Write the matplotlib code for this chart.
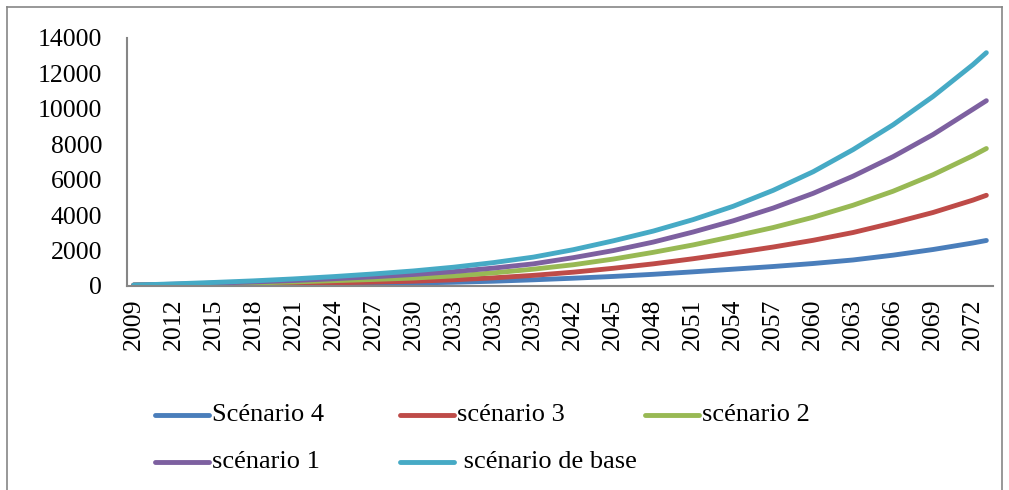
import matplotlib
matplotlib.use('Agg')
import matplotlib.pyplot as plt
from matplotlib.lines import Line2D

plt.rcParams['font.family'] = ['Liberation Serif', 'DejaVu Serif']

# data (every 3 years + last year)
years = [2009, 2012, 2015, 2018, 2021, 2024, 2027, 2030, 2033, 2036, 2039,
         2042, 2045, 2048, 2051, 2054, 2057, 2060, 2063, 2066, 2069, 2072, 2073]
scen4 = [50, 55, 65, 80, 95, 115, 140, 170, 210, 270, 350,
         440, 540, 660, 800, 950, 1100, 1270, 1470, 1740, 2060, 2430, 2570]
scen3 = [50, 65, 85, 110, 140, 180, 220, 270, 350, 460, 600,
         780, 1000, 1250, 1540, 1860, 2200, 2580, 3020, 3560, 4150, 4850, 5120]
scen2 = [50, 80, 120, 170, 230, 300, 370, 450, 570, 740, 950,
         1200, 1520, 1900, 2320, 2800, 3300, 3880, 4560, 5350, 6280, 7360, 7760]
scen1 = [50, 100, 160, 230, 310, 410, 520, 650, 810, 1010, 1250,
         1600, 2000, 2480, 3050, 3680, 4400, 5230, 6200, 7300, 8550, 9980, 10460]
base = [50, 120, 200, 290, 400, 530, 680, 850, 1060, 1320, 1630,
        2050, 2550, 3100, 3750, 4500, 5400, 6450, 7700, 9100, 10700, 12500, 13170]

labels = ['Scénario 4', 'scénario 3', 'scénario 2', 'scénario 1', ' scénario de base']
series = [scen4, scen3, scen2, scen1, base]
colors = ['#4A7EBB', '#BE4B48', '#98B954', '#7D60A0', '#46AAC5']
tick_years = list(range(2009, 2073, 3))
y_ticks = list(range(0, 14001, 2000))

W, H = 1009, 490
fig = plt.figure(figsize=(W / 100, H / 100), dpi=100)
fig.patch.set_facecolor('white')

ax = fig.add_axes([127 / W, 1 - 286 / H, (993 - 127) / W, (286 - 38) / H])
for vals, col in zip(series, colors):
    ax.plot(years, vals, color=col, lw=3.5, solid_capstyle='round', solid_joinstyle='round')

ax.set_xlim(2008.5, 2073.5)
ax.set_ylim(0, 14000)
ax.set_xticks(tick_years)
ax.set_xticklabels([str(y) for y in tick_years], rotation=90, fontsize=18.5)
ax.set_yticks(y_ticks)
ax.set_yticklabels([str(v) for v in y_ticks], fontsize=18.5)
ax.tick_params(axis='x', length=0, pad=9)
ax.tick_params(axis='y', length=0, pad=18)
for s in ['top', 'right']:
    ax.spines[s].set_visible(False)
for s in ['left', 'bottom']:
    ax.spines[s].set_color('#868686')
    ax.spines[s].set_linewidth(1.5)

# legend drawn by hand (Excel-style equal columns)
col_x = [155, 400, 645]
row_y = [415, 462]
slots = [(0, 0), (0, 1), (0, 2), (1, 0), (1, 1)]
for (r, c), lab, col in zip(slots, labels, colors):
    x0 = col_x[c]
    y0 = 1 - row_y[r] / H
    fig.add_artist(Line2D([x0 / W, (x0 + 54) / W], [y0, y0], color=col, lw=3.5,
                          solid_capstyle='round', transform=fig.transFigure))
    fig.text((x0 + 57) / W, y0, lab, fontsize=19, ha='left', va='center')

# chart frame
frame_col = '#868686'
fig.add_artist(Line2D([7 / W, 1002 / W], [1 - 7 / H, 1 - 7 / H], color=frame_col, lw=1.2))
fig.add_artist(Line2D([7 / W, 7 / W], [1 - 7 / H, -0.05], color=frame_col, lw=1.2))
fig.add_artist(Line2D([1002 / W, 1002 / W], [1 - 7 / H, -0.05], color=frame_col, lw=1.2))

fig.savefig('out.png', dpi=100, facecolor='white')
